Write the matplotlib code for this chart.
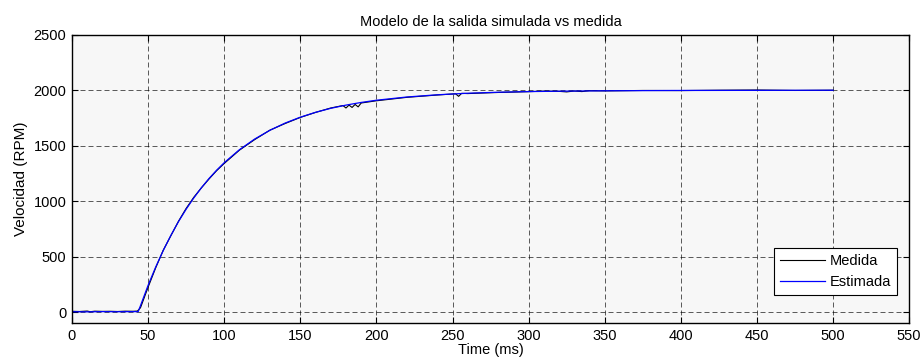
import matplotlib
matplotlib.use("Agg")
import matplotlib.pyplot as plt

# --- Data ---
t_est = [0, 10, 20, 30, 40, 43.5, 45, 50, 55, 60, 65, 70, 75, 80, 85, 90, 95, 100,
         110, 120, 130, 140, 150, 160, 170, 180, 190, 200, 220, 240, 260, 280,
         300, 325, 350, 400, 450, 500]
v_est = [4, 3, 5, 4, 5, 5, 59, 242, 407, 557, 693, 817, 928, 1029, 1121, 1204, 1279, 1347,
         1464, 1560, 1639, 1704, 1757, 1801, 1837, 1866, 1890, 1910, 1939, 1959, 1973, 1982,
         1988, 1992, 1995, 1998, 1999, 2000]

t_med = [0, 5, 10, 12, 15, 20, 25, 30, 35, 40, 43, 45, 50, 55, 60, 65, 70, 75, 80, 85,
         90, 95, 100, 110, 120, 130, 140, 150, 160, 170, 178, 180, 182, 184, 186, 188,
         190, 195, 200, 220, 240, 252, 254, 256, 260, 280, 300, 310, 320, 325, 330,
         335, 340, 350, 375, 400, 425, 450, 475, 500]
v_med = [8, 6, 10, 4, 9, 7, 8, 6, 9, 8, 10, 40, 225, 400, 560, 690, 820, 935, 1035, 1120,
         1200, 1275, 1340, 1460, 1555, 1640, 1700, 1755, 1800, 1840, 1862, 1840, 1866, 1845,
         1872, 1850, 1885, 1895, 1905, 1936, 1957, 1968, 1945, 1972, 1970, 1980, 1987, 1992,
         1990, 1985, 1993, 1988, 1996, 1994, 1998, 1997, 2000, 2002, 1998, 2000]

title = "Modelo de la salida simulada vs medida"
x_ticks = list(range(0, 551, 50))
y_ticks = list(range(0, 2501, 500))

plt.rcParams['font.family'] = ['Liberation Sans', 'DejaVu Sans']
plt.rcParams['font.size'] = 10.5

fig = plt.figure(figsize=(9.23, 3.62), dpi=100)
ax = fig.add_axes([0.078, 0.107, 0.907, 0.797])
ax.set_facecolor('#f7f7f7')

ax.plot(t_med, v_med, color='black', lw=0.8, label='Medida')
ax.plot(t_est, v_est, color='blue', lw=0.9, label='Estimada')

ax.set_xlim(0, 550)
ax.set_ylim(-100, 2500)
ax.set_xticks(x_ticks)
ax.set_yticks(y_ticks)
ax.grid(True, color='black', linestyle=(0, (6, 3.6)), lw=0.6, alpha=0.75)
ax.tick_params(direction='in', top=True, right=True, length=4, width=0.8,
               pad=4, labelsize=10.5)
for s in ax.spines.values():
    s.set_linewidth(1.0)

ax.set_title(title, fontsize=10.5, pad=6)
ax.set_xlabel("Time (ms)", fontsize=10.5, labelpad=0)
ax.set_ylabel("Velocidad (RPM)", fontsize=11, labelpad=4)

leg = ax.legend(loc='lower right', bbox_to_anchor=(0.9857, 0.097), borderaxespad=0,
                fancybox=False, framealpha=1, edgecolor='black',
                fontsize=10.5, handlelength=3.1, handletextpad=0.35, borderpad=0.4)
leg.get_frame().set_linewidth(0.8)

fig.savefig("out.png", dpi=100, facecolor='white')
